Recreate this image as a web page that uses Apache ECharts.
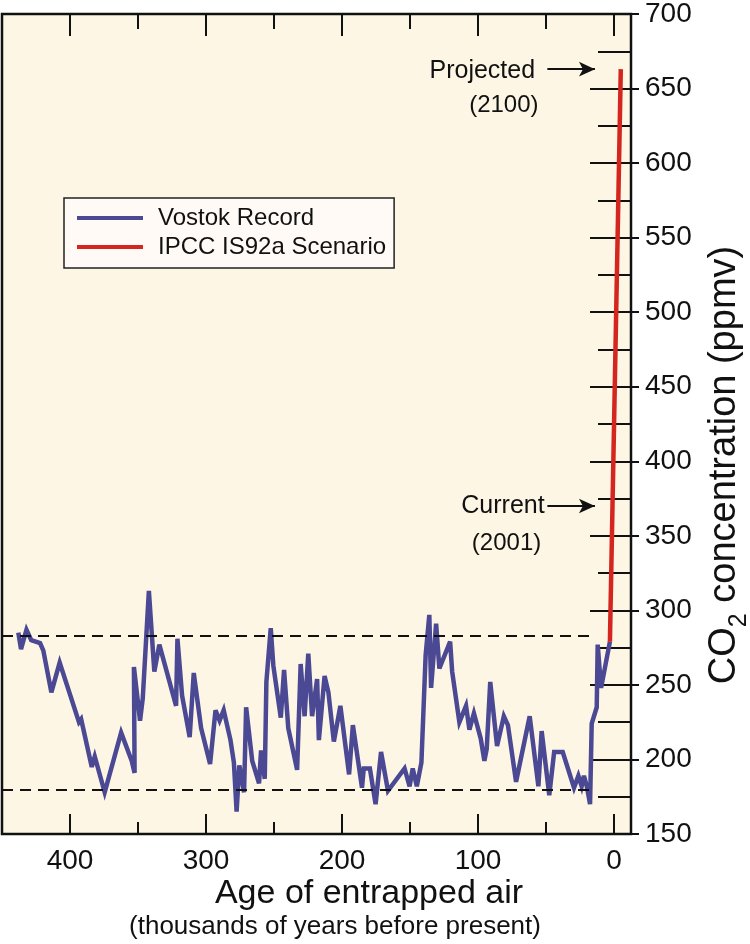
<!DOCTYPE html>
<html><head><meta charset="utf-8">
<script src="https://cdn.jsdelivr.net/npm/echarts@6/dist/echarts.min.js"></script>
<style>html,body{margin:0;padding:0;background:#fff}#c{width:750px;height:944px}</style>
</head><body><div id="c"></div>
<script>
// ---- data (ages in thousands of years before present, CO2 in ppmv) ----
const vostokAge = [438,436,432,428.5,422,419.6,413.7,407.6,393.4,391.8,384,381.8,374.5,362.4,354.6,352.5,353,348.5,346.5,342,338,334.3,322,321,317.6,312,309,303.6,297,293,290,287,282,279.5,277.5,275.5,272,270.5,266,261,259.5,256.8,255.6,252.4,250.5,245,242.6,239.5,233,230.4,227.5,224.8,222,218.3,217,212.8,210,206,201.2,194.8,192,185.3,184,179.5,175.3,171.3,166.2,154,150.3,148,145,141.6,138.5,135.8,134.5,130.8,128.4,120.5,119,113.7,108.8,106.3,103,98,95.3,93.6,91,86,81,78,72,62,55.6,53.2,47.6,44,37.7,29.4,26.2,23.8,22.1,20,17.6,16.4,12.7,12,9.5,3];
const vostokCO2 = [285,274,287,280,278,273,245,265,225,227,195,202,178,218,199,191,262,226,241,313,259,277,236,281,243,215,258,221,197,233,226,233,213,198,165,196,178,235,199,184,206,187,252,288,263,228,260,221,193,264,229,271,229,254,213,256,245,212,236,190,223,181,194,194,170,205,179,194,182,194,182,198,270,297,248,291,261,279,259,225,236,220,231,214,199,207,252,209,229,223,185,229,182,219,176,205,205,181,189,182,189,182,170,224,235,277,248,279];
const ipccAge = [3, -5];
const ipccCO2 = [279, 663];
const refLevels = [283, 180];
const refAgeSpan = [450, 16];
const xMajorTicks = [0, 100, 200, 300, 400];
const xMinorTicks = [50, 150, 250, 350];
const seriesNames = ['Vostok Record', 'IPCC IS92a Scenario'];

const FONT = 'Liberation Sans, Arial, Helvetica, sans-serif';
const zip = (a, b) => a.map((v, i) => [v, b[i]]);

const chart = echarts.init(document.getElementById('c'), null, {renderer: 'canvas'});

function xAx(position, ticks, len, withLabels) {
  return {
    type: 'value', position: position, min: -12.5, max: 450, inverse: true,
    axisLine: {show: false}, splitLine: {show: false},
    axisTick: {show: true, inside: true, length: len, customValues: ticks, lineStyle: {color: '#111', width: 2}},
    axisLabel: withLabels ? {show: true, customValues: ticks, fontSize: 28, color: '#111', margin: 13, fontFamily: FONT} : {show: false}
  };
}
function yAx(position, withLabels, len, minorLen) {
  return {
    type: 'value', position: position, min: 150, max: 700, interval: 50,
    axisLine: {show: false}, splitLine: {show: false},
    axisTick: {show: true, inside: true, length: len, lineStyle: {color: '#111', width: 2}},
    minorTick: {show: true, splitNumber: 2, length: minorLen, lineStyle: {color: '#111', width: 2}},
    minorSplitLine: {show: false},
    axisLabel: withLabels ? {show: true, fontSize: 28, color: '#111', margin: 14, fontFamily: FONT} : {show: false}
  };
}

chart.setOption({
  animation: false,
  backgroundColor: '#ffffff',
  grid: {left: 2, right: 119, top: 7, bottom: 110, show: true, backgroundColor: '#fdf6e5', borderColor: '#111', borderWidth: 2.5},
  xAxis: [xAx('bottom', xMajorTicks, 20, true), xAx('bottom', xMinorTicks, 12, false), xAx('top', xMajorTicks, 22, false), xAx('top', xMinorTicks, 15, false)],
  yAxis: [yAx('right', true, 24, 16), yAx('left', false, 25, 17)],
  legend: {
    data: seriesNames, orient: 'vertical', left: 64, top: 198,
    backgroundColor: '#fffaf5', borderColor: '#222', borderWidth: 1.5,
    padding: [8, 8, 9, 13], itemWidth: 66, itemHeight: 4, itemGap: 5, icon: 'rect',
    textStyle: {fontSize: 24, color: '#111', fontFamily: FONT, padding: [0, 0, 0, 10]}
  },
  series: [
    {
      name: seriesNames[0], type: 'line', xAxisIndex: 0, yAxisIndex: 0,
      data: zip(vostokAge, vostokCO2), showSymbol: false, symbol: 'none',
      lineStyle: {color: '#4b4894', width: 4.5, join: 'miter', miterLimit: 4}, itemStyle: {color: '#4b4894'}, z: 3,
      markLine: {
        silent: true, symbol: 'none', label: {show: false},
        lineStyle: {color: '#111', width: 2, type: [11, 7]},
        data: refLevels.map(v => [{coord: [refAgeSpan[0], v]}, {coord: [refAgeSpan[1], v]}])
      }
    },
    {
      name: seriesNames[1], type: 'line', xAxisIndex: 0, yAxisIndex: 0,
      data: zip(ipccAge, ipccCO2), showSymbol: false, symbol: 'none',
      lineStyle: {color: '#d4261e', width: 4.5, cap: 'butt'}, itemStyle: {color: '#d4261e'}, z: 4,
      markLine: {
        silent: true, symbol: ['none', 'arrow'], symbolSize: [11, 16], label: {show: false},
        lineStyle: {color: '#111', width: 1.8, type: 'solid'},
        data: [
          [{coord: [49, 663]}, {coord: [14, 663]}],
          [{coord: [49, 370]}, {coord: [14, 370]}]
        ]
      }
    }
  ]
});

// annotations anchored in data space
const annotations = [
  {t: 'Projected', at: [58, 662], align: 'right', size: 25},
  {t: '(2100)', at: [81, 639], align: 'center', size: 24},
  {t: 'Current', at: [51, 370], align: 'right', size: 25},
  {t: '(2001)', at: [79, 345], align: 'center', size: 24}
];
const g = annotations.map(a => {
  const p = chart.convertToPixel({xAxisIndex: 0, yAxisIndex: 0}, a.at);
  return {type: 'text', x: p[0], y: p[1], style: {text: a.t, fontSize: a.size, fontFamily: FONT, fill: '#111', align: a.align, verticalAlign: 'middle'}};
});
g.push({type: 'text', x: 369, y: 894, style: {text: 'Age of entrapped air', fontSize: 34, fontFamily: FONT, fill: '#111', align: 'center', verticalAlign: 'middle'}});
g.push({type: 'text', x: 335, y: 927, style: {text: '(thousands of years before present)', fontSize: 26, fontFamily: FONT, fill: '#111', align: 'center', verticalAlign: 'middle'}});
g.push({type: 'text', x: 722, y: 465, rotation: Math.PI / 2, style: {
  text: '{a|CO}{s|2}{a| concentration (ppmv)}', align: 'center', verticalAlign: 'middle',
  rich: {a: {fontSize: 38, fontFamily: FONT, fill: '#111', lineHeight: 44, verticalAlign: 'bottom'}, s: {fontSize: 25, fontFamily: FONT, fill: '#111', lineHeight: 44, verticalAlign: 'bottom', padding: [0, 0, -8, 0]}}
}});
chart.setOption({graphic: g});
</script></body></html>
